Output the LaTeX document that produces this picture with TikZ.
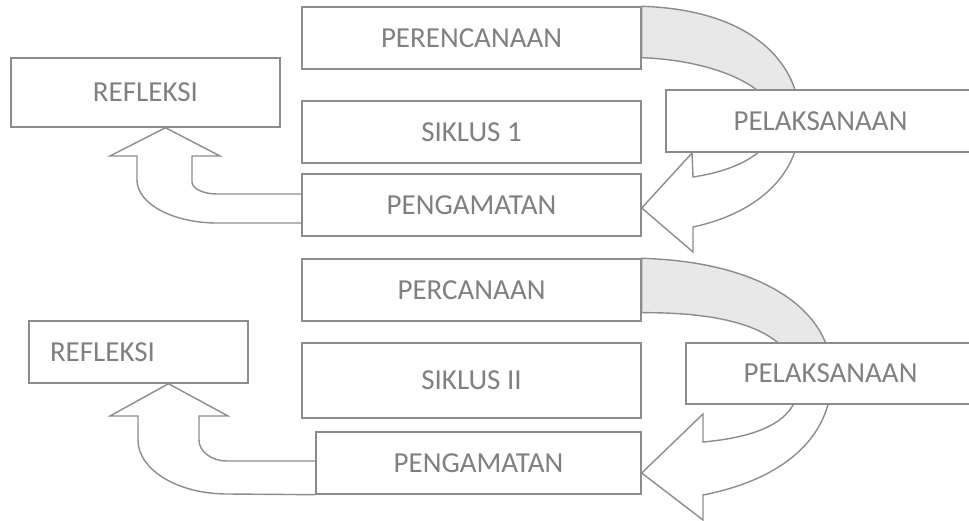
\documentclass[tikz,border=0pt]{standalone}
\usepackage{fontspec}
\setmainfont{Carlito}
\usetikzlibrary{calc,backgrounds}
\definecolor{linegray}{RGB}{140,140,140}
\definecolor{txtgray}{RGB}{128,128,128}
\definecolor{bandgray}{RGB}{232,232,232}
\begin{document}
\begin{tikzpicture}[x=1pt,y=-1pt,
  box/.style={draw=linegray, line width=1.4pt, fill=white, rectangle, text=txtgray, font=\fontsize{29}{32}\selectfont},
  band/.style={draw=linegray, line width=1.4pt, line join=miter}]
\useasboundingbox (0,0) rectangle (969,521);
\clip (0,0) rectangle (969,521);
% siklus 1
\node[box, minimum width=339, minimum height=62] (ren1) at (471.5,38) {PERENCANAAN};
\node[box, minimum width=339, minimum height=62] (sik1) at (471.5,132) {SIKLUS 1};
\node[box, minimum width=339, minimum height=62] (pen1) at (471.5,205) {PENGAMATAN};
\node[box, minimum width=309, minimum height=62] (pel1) at (820.5,121) {PELAKSANAAN};
\node[box, minimum width=269, minimum height=69] (ref1) at (145.5,92.5) {REFLEKSI};
% siklus 2
\node[box, minimum width=339, minimum height=62] (ren2) at (471.5,290) {PERCANAAN};
\node[box, minimum width=339, minimum height=75] (sik2) at (471.5,380.5) {SIKLUS II};
\node[box, minimum width=325, minimum height=62] (pen2) at (478.5,463) {PENGAMATAN};
\node[box, minimum width=289, minimum height=61] (pel2) at (830.5,373.5) {PELAKSANAAN};
\node[box, minimum height=62, text width=177, inner xsep=21, align=left] (ref2) at (138.5,352) {REFLEKSI};
\begin{scope}[on background layer]
% curved arrows on the right
\filldraw[band, fill=bandgray] (ren1.north east) .. controls (760,10) and (800,70) .. (800,120)
  -- (775,121) .. controls (775,85) and (710,60) .. ($(ren1.south east)+(0,-12)$) -- cycle;
\filldraw[band, fill=white] (800,120) .. controls (800,180) and (750,215) .. (693,227)
  -- (693,252) -- ($(pen1.east)+(0,3)$) -- (692,153) -- (693,177)
  .. controls (740,170) and (775,150) .. (775,121);
\filldraw[band, fill=bandgray] (ren2.north east) .. controls (770,262) and (832,315) .. (832,375)
  -- (798,385) .. controls (798,335) and (740,312) .. ($(ren2.south east)+(0,-9)$) -- cycle;
\filldraw[band, fill=white] (832,375) .. controls (832,440) and (780,480) .. (703,495)
  -- (703,520) -- ($(pen2.east)+(0,10)$) -- (703,414) -- (703,442)
  .. controls (760,437) and (798,420) .. (798,385);
% up arrows on the left
\filldraw[band, fill=white] ($(pen1.west)+(0,18)$) -- (217,223) .. controls (172.8,223) and (137,203.7) .. (137,180)
  -- (137,156) -- (110,156) -- ($(ref1.south)+(20,0)$) -- (220,156) -- (192,156) -- (192,182)
  .. controls (192,188.6) and (203.2,194) .. (217,194) -- ($(pen1.west)+(0,-11)$);
\filldraw[band, fill=white] (pen2.south west) -- (227,494) .. controls (177.8,494) and (138,469.8) .. (138,440)
  -- (138,416) -- (110,416) -- ($(ref2.south)+(30,0)$) -- (228,416) -- (199,416) -- (199,440)
  .. controls (199,451.6) and (211.5,461) .. (227,461) -- ($(pen2.west)+(0,-2)$);
\end{scope}
\end{tikzpicture}
\end{document}
